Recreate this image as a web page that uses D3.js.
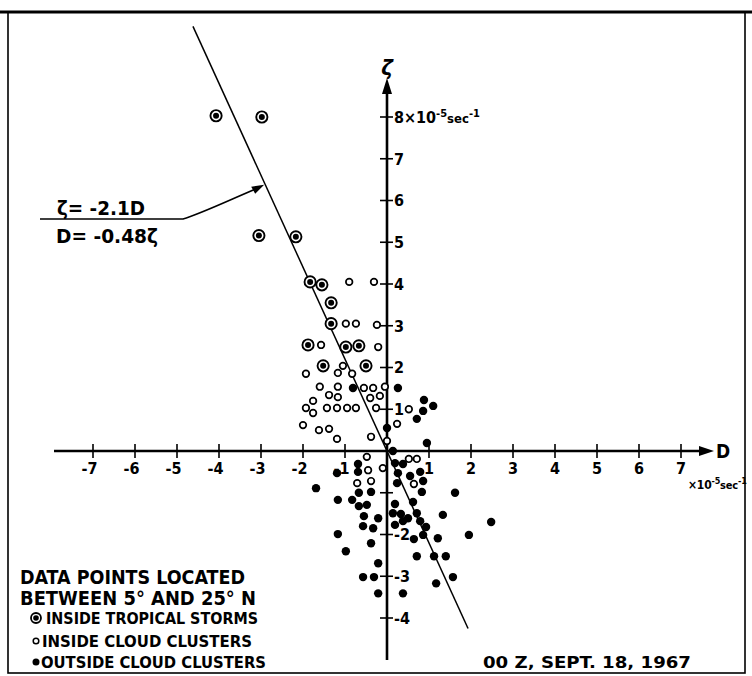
<!DOCTYPE html>
<html>
<head>
<meta charset="utf-8">
<script src="https://cdn.jsdelivr.net/npm/d3@7"></script>
<style>
  html, body { margin: 0; padding: 0; background: #fff; }
  svg { display: block; }
</style>
</head>
<body>
<svg id="chart"></svg>
<script>
'use strict';
// divergence D vs vorticity zeta, units 1e-5 sec-1
var stormD = [-4.07, -2.98, -3.05, -2.17, -1.83, -1.55, -1.33, -1.33, -1.88, -0.98, -0.67, -1.52, -0.5];
var stormZ = [8.03, 8.0, 5.16, 5.13, 4.05, 3.98, 3.55, 3.05, 2.54, 2.49, 2.52, 2.04, 2.04];

var insideD = [-0.9, -0.31, -0.98, -0.74, -0.24, -1.57, -0.21, -1.05, -1.93, -1.17, -0.83, -1.6, -1.17, -0.55, -0.33,
  -0.05, -1.38, -1.17, -0.4, -0.17, -1.76, -1.93, -1.76, -1.43, -1.19, -0.95, -0.74, -0.26, 0.52, -2.0,
  -1.62, -1.38, 0.24, -1.19, -0.38, 0.0, -0.48, 0.52, 0.71, -0.45, -0.1, 0.64, -0.71, -0.38];
var insideZ = [4.05, 4.05, 3.05, 3.05, 3.02, 2.54, 2.49, 2.04, 1.85, 1.87, 1.85, 1.54, 1.54, 1.51, 1.51,
  1.54, 1.34, 1.29, 1.27, 1.32, 1.2, 1.03, 0.91, 1.03, 1.03, 1.03, 1.03, 1.03, 1.0, 0.62,
  0.5, 0.53, 0.65, 0.29, 0.34, 0.24, -0.14, -0.19, -0.19, -0.46, -0.41, -0.79, -0.77, -0.72];

var outsideD = [-0.81, 0.26, 0.88, 1.1, 0.86, 0.71, 0.0, 0.95, 0.14,
  0.19, 0.38, -0.69, -0.69, -1.19, 0.26, 0.55, 0.79, 0.86, 0.24, -1.69, -0.67, -0.38, 0.83, 1.62,
  -1.17, -0.83, -0.67, -0.48, 0.19, 0.62, 0.14, 0.33, 0.71, -0.55, -0.21, 1.33, 2.48, 0.38, 0.5,
  0.79, 0.19, -0.57, -0.33, 0.93, -1.17, 0.86, 0.64, 1.21, 1.95, -0.38, -0.98, 0.71, 1.12, 1.4,
  -0.21, -0.57, -0.31, 1.57, 1.17, -0.21, 0.38];
var outsideZ = [1.51, 1.51, 1.22, 1.08, 0.96, 0.77, 0.55, 0.19, 0.0,
  -0.29, -0.31, -0.31, -0.5, -0.53, -0.53, -0.6, -0.5, -0.72, -0.77, -0.89, -1.0, -0.98, -0.98, -1.0,
  -1.17, -1.17, -1.32, -1.29, -1.27, -1.22, -1.49, -1.51, -1.49, -1.56, -1.61, -1.53, -1.7, -1.68, -1.61,
  -1.68, -1.77, -1.8, -1.85, -1.82, -1.99, -2.01, -2.11, -2.09, -2.01, -2.21, -2.4, -2.52, -2.52, -2.52,
  -2.69, -3.02, -3.02, -3.02, -3.17, -3.41, -3.41];

// fitted line zeta = -2.1 D, as drawn
var lineD = [-4.62, 1.93];
var lineZ = [10.17, -4.25];
var arrowAt = [-2.9, 6.4];

var xTicks = [-7, -6, -5, -4, -3, -2, -1, 1, 2, 3, 4, 5, 6, 7];
var yTicks = [-4, -3, -2, -1, 1, 2, 3, 4, 5, 6, 7, 8];
var yTickLabels = ['-4', '-3', '-2', '', '1', '2', '3', '4', '5', '6', '7', ''];

var W = 752, H = 676;
var FONT = "'DejaVu Sans Condensed','Liberation Sans Narrow',sans-serif";

var svg = d3.select('#chart').attr('width', W).attr('height', H);

var x = d3.scaleLinear().domain([-7, 7]).range([93, 681]);
var y = d3.scaleLinear().domain([-4, 8]).range([618, 117]);
var x0 = x(0), y0 = y(0);

// frame
svg.append('rect').attr('x', 8).attr('y', 12).attr('width', 737).attr('height', 661)
  .attr('fill', 'none').attr('stroke', '#000').attr('stroke-width', 1.6);
svg.append('line').attr('x1', 0).attr('x2', W).attr('y1', 12).attr('y2', 12)
  .attr('stroke', '#000').attr('stroke-width', 3);

// axes
var ax = svg.append('g');
ax.append('line').attr('x1', 54).attr('x2', 702).attr('y1', y0).attr('y2', y0)
  .attr('stroke', '#000').attr('stroke-width', 2.4);
ax.append('path').attr('d', 'M714,' + y0 + 'L699,' + (y0 - 5) + 'L699,' + (y0 + 5) + 'Z');
ax.append('line').attr('x1', x0).attr('x2', x0).attr('y1', 92).attr('y2', 660)
  .attr('stroke', '#000').attr('stroke-width', 2.6);
ax.append('path').attr('d', 'M' + x0 + ',78L' + (x0 - 5) + ',94L' + (x0 + 5) + ',94Z');

ax.selectAll('.xt').data(xTicks).enter().append('line')
  .attr('x1', function(d) { return x(d); }).attr('x2', function(d) { return x(d); })
  .attr('y1', y0 - 7).attr('y2', y0 + 7).attr('stroke', '#000').attr('stroke-width', 1.6);
ax.selectAll('.xl').data(xTicks).enter().append('text')
  .attr('x', function(d) { return d < 0 ? x(d) + 4.5 : x(d); })
  .attr('y', y0 + 23)
  .attr('text-anchor', function(d) { return d < 0 ? 'end' : 'middle'; })
  .style('font', 'bold 16px ' + FONT)
  .text(function(d) { return d; });

ax.selectAll('.yt').data(yTicks).enter().append('line')
  .attr('x1', x0 - 7).attr('x2', x0 + 6)
  .attr('y1', function(d) { return y(d); }).attr('y2', function(d) { return y(d); })
  .attr('stroke', '#000').attr('stroke-width', 1.6);
ax.selectAll('.yl').data(yTicks).enter().append('text')
  .attr('x', x0 + 7).attr('y', function(d) { return y(d); }).attr('dy', '0.36em')
  .style('font', 'bold 16px ' + FONT)
  .text(function(d, i) { return yTickLabels[i]; });

// units label on the 8 tick
var u = ax.append('text').attr('x', x0 + 7).attr('y', y(8)).attr('dy', '0.36em')
  .style('font', 'bold 16px ' + FONT);
u.append('tspan').text('8\u00d710');
u.append('tspan').attr('dy', -6).style('font-size', '11px').text('-5');
u.append('tspan').attr('dy', 6).style('font-size', '13px').text('sec');
u.append('tspan').attr('dy', -6).style('font-size', '11px').text('-1');

var u2 = ax.append('text').attr('x', 688).attr('y', y0 + 38)
  .style('font', 'bold 12px ' + FONT).style('letter-spacing', '-0.2px');
u2.append('tspan').text('\u00d710');
u2.append('tspan').attr('dy', -5).style('font-size', '9px').text('-5');
u2.append('tspan').attr('dy', 5).style('font-size', '11px').text('sec');
u2.append('tspan').attr('dy', -5).style('font-size', '9px').text('-1');

ax.append('text').attr('x', 716).attr('y', y0 + 7).style('font', 'bold 19px ' + FONT).text('D');
ax.append('text').attr('x', x0).attr('y', 75).attr('text-anchor', 'middle')
  .style('font', 'italic bold 22px ' + FONT).text('\u03b6');

// fitted line
svg.append('line')
  .attr('x1', x(lineD[0])).attr('y1', y(lineZ[0]))
  .attr('x2', x(lineD[1])).attr('y2', y(lineZ[1]))
  .attr('stroke', '#000').attr('stroke-width', 1.5);

// annotation
var tipX = x(arrowAt[0]) - 1, tipY = y(arrowAt[1]) + 1;
svg.append('path')
  .attr('d', 'M40,219H183C200,214 225,202 ' + (tipX - 8) + ',' + (tipY + 4))
  .attr('fill', 'none').attr('stroke', '#000').attr('stroke-width', 1.5);
svg.append('path')
  .attr('d', 'M' + tipX + ',' + tipY + 'L' + (tipX - 13) + ',' + (tipY + 2) + 'L' + (tipX - 9) + ',' + (tipY + 9) + 'Z');
svg.append('text').attr('x', 57).attr('y', 215).attr('textLength', 88).attr('lengthAdjust', 'spacingAndGlyphs')
  .style('font', 'bold 19px ' + FONT).text('\u03b6= -2.1D');
svg.append('text').attr('x', 56).attr('y', 243).attr('textLength', 102).attr('lengthAdjust', 'spacingAndGlyphs')
  .style('font', 'bold 19px ' + FONT).text('D= -0.48\u03b6');

// points
var pts = svg.append('g');
var outside = d3.zip(outsideD, outsideZ);
var inside = d3.zip(insideD, insideZ);
var storms = d3.zip(stormD, stormZ);

pts.selectAll('.out').data(outside).enter().append('circle')
  .attr('cx', function(d) { return x(d[0]); }).attr('cy', function(d) { return y(d[1]); })
  .attr('r', 4.2).attr('fill', '#000');
pts.selectAll('.in').data(inside).enter().append('circle')
  .attr('cx', function(d) { return x(d[0]); }).attr('cy', function(d) { return y(d[1]); })
  .attr('r', 3.3).attr('fill', '#fff').attr('stroke', '#000').attr('stroke-width', 1.7);
var st = pts.selectAll('.st').data(storms).enter().append('g')
  .attr('transform', function(d) { return 'translate(' + x(d[0]) + ',' + y(d[1]) + ')'; });
st.append('circle').attr('r', 5.6).attr('fill', '#fff').attr('stroke', '#000').attr('stroke-width', 1.9);
st.append('circle').attr('r', 3).attr('fill', '#000');

// legend
var lg = svg.append('g');
lg.append('text').attr('x', 20).attr('y', 584).attr('textLength', 225).attr('lengthAdjust', 'spacingAndGlyphs')
  .style('font', 'bold 19px ' + FONT).text('DATA POINTS LOCATED');
lg.append('text').attr('x', 20).attr('y', 605).attr('textLength', 236).attr('lengthAdjust', 'spacingAndGlyphs')
  .style('font', 'bold 19px ' + FONT).text('BETWEEN 5\u00b0 AND 25\u00b0 N');
var g1 = lg.append('g').attr('transform', 'translate(36,618)');
g1.append('circle').attr('r', 5).attr('fill', '#fff').attr('stroke', '#000').attr('stroke-width', 1.8);
g1.append('circle').attr('r', 2.8).attr('fill', '#000');
lg.append('circle').attr('cx', 36).attr('cy', 641).attr('r', 2.8)
  .attr('fill', '#fff').attr('stroke', '#000').attr('stroke-width', 1.5);
lg.append('circle').attr('cx', 36).attr('cy', 662).attr('r', 3.5).attr('fill', '#000');
lg.append('text').attr('x', 46).attr('y', 624).attr('textLength', 212).attr('lengthAdjust', 'spacingAndGlyphs')
  .style('font', 'bold 15px ' + FONT).text('INSIDE TROPICAL STORMS');
lg.append('text').attr('x', 42).attr('y', 647).attr('textLength', 210).attr('lengthAdjust', 'spacingAndGlyphs')
  .style('font', 'bold 15px ' + FONT).text('INSIDE CLOUD CLUSTERS');
lg.append('text').attr('x', 41).attr('y', 668).attr('textLength', 225).attr('lengthAdjust', 'spacingAndGlyphs')
  .style('font', 'bold 15px ' + FONT).text('OUTSIDE CLOUD CLUSTERS');

svg.append('text').attr('x', 483).attr('y', 668).attr('textLength', 208).attr('lengthAdjust', 'spacingAndGlyphs')
  .style('font', 'bold 15px ' + FONT).text('00 Z,  SEPT.  18,  1967');
</script>
</body>
</html>
